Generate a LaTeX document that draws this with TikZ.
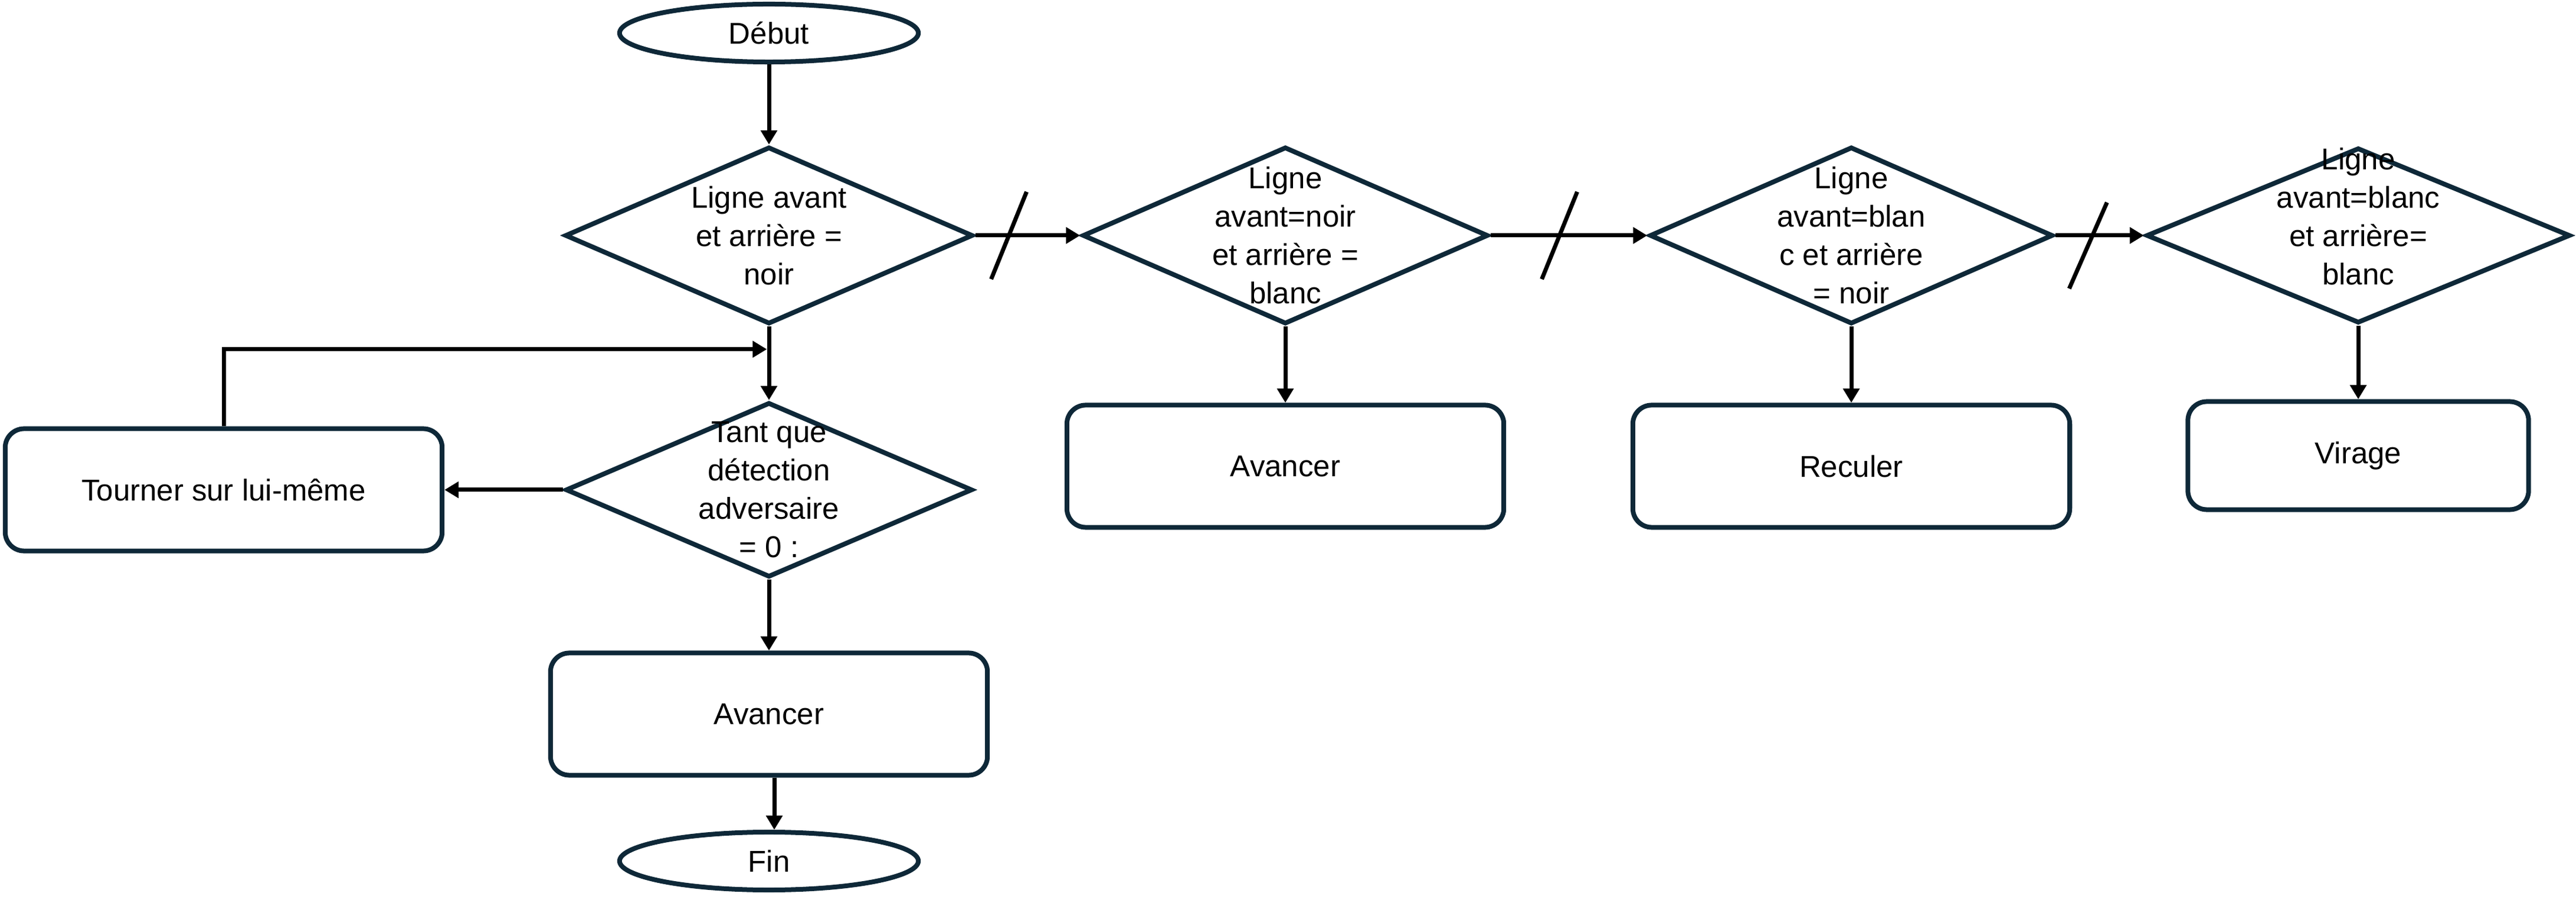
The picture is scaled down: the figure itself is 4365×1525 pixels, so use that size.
\documentclass[tikz,border=0pt]{standalone}
\usepackage{fontspec}
\setmainfont{Liberation Sans}
\usetikzlibrary{shapes.geometric,arrows.meta,calc}
\definecolor{shapeline}{HTML}{0E2838}
\begin{document}
\begin{tikzpicture}[x=0.01cm,y=-0.01cm,
  every node/.style={font=\fontsize{14.5pt}{18.5pt}\selectfont, text=black},
  shp/.style={draw=shapeline, line width=0.08cm, fill=white},
  term/.style={shp, ellipse, minimum width=5.06cm, minimum height=0.98cm, inner sep=0pt},
  dec/.style={shp, diamond, inner sep=0pt},
  proc/.style={shp, rectangle, rounded corners=0.32cm, minimum width=7.4cm, minimum height=2.07cm},
  txt/.style={align=center, inner sep=0pt},
  arr/.style={line width=0.07cm, draw=black, -{Triangle[length=0.24cm,width=0.27cm]}},
  slash/.style={line width=0.07cm, draw=black},
]
\useasboundingbox (0,0) rectangle (4365,1525);

% main column
\node[term] (deb) at (1303,56) {Début};
\node[dec, minimum width=6.91cm, minimum height=3.0cm] (d1) at (1303,399) {};
\node[txt] (d1t) at (d1) {Ligne avant\\et arrière =\\noir};
\node[dec, minimum width=6.89cm, minimum height=2.96cm] (tq) at (1303,830) {};
\node[txt] (tqt) at (tq) {Tant que\\détection\\adversaire\\= 0 :};
\node[proc] (tour) at (379,830) {Tourner sur lui-même};
\node[proc] (a1) at (1303,1210) {Avancer};
\node[term] (fin) at (1303,1459) {Fin};

% right chain
\node[dec, minimum width=6.87cm, minimum height=3.0cm] (d2) at (2178,399) {};
\node[txt] (d2t) at (d2) {Ligne\\avant=noir\\et arrière =\\blanc};
\node[dec, minimum width=6.83cm, minimum height=3.0cm] (d3) at (3137,399) {};
\node[txt] (d3t) at (d3) {Ligne\\avant=blan\\c et arrière\\= noir};
\node[dec, minimum width=7.18cm, minimum height=2.97cm] (d4) at (3996,399) {};
\node[txt] (d4t) at (3996,367) {Ligne\\avant=blanc\\et arrière=\\blanc};

\node[proc] (a2) at (2178,790) {Avancer};
\node[proc] (rec) at (3137,790) {Reculer};
\node[proc, minimum width=5.77cm, minimum height=1.83cm] (vir) at (3996,772) {Virage};

% connectors
\draw[arr] (deb.south) -- (d1.north);
\draw[arr] (d1.south) -- (tq.north);
\coordinate (j) at ($(d1.south)!0.31!(tq.north)$);
\draw[arr, shorten >=0.035cm] (tour.north) |- (j);
\draw[arr] (tq.west) -- (tour.east);
\draw[arr] (tq.south) -- (a1.north);
\draw[arr] ([xshift=0.09cm]a1.south) -- ([xshift=0.09cm]fin.north);

\draw[arr] (d1.east) -- coordinate[pos=0.32] (s1) (d2.west);
\draw[arr] (d2.east) -- coordinate[pos=0.44] (s2) (d3.west);
\draw[arr] (d3.east) -- coordinate[pos=0.37] (s3) (d4.west);
\draw[slash] ($(s1)+(-30,74)$) -- ($(s1)+(30,-74)$);
\draw[slash] ($(s2)+(-30,74)$) -- ($(s2)+(30,-74)$);
\draw[slash] ($(s3)+(-32,90)$) -- ($(s3)+(32,-56)$);

\draw[arr] (d2.south) -- (a2.north);
\draw[arr] (d3.south) -- (rec.north);
\draw[arr] (d4.south) -- (vir.north);
\end{tikzpicture}
\end{document}
